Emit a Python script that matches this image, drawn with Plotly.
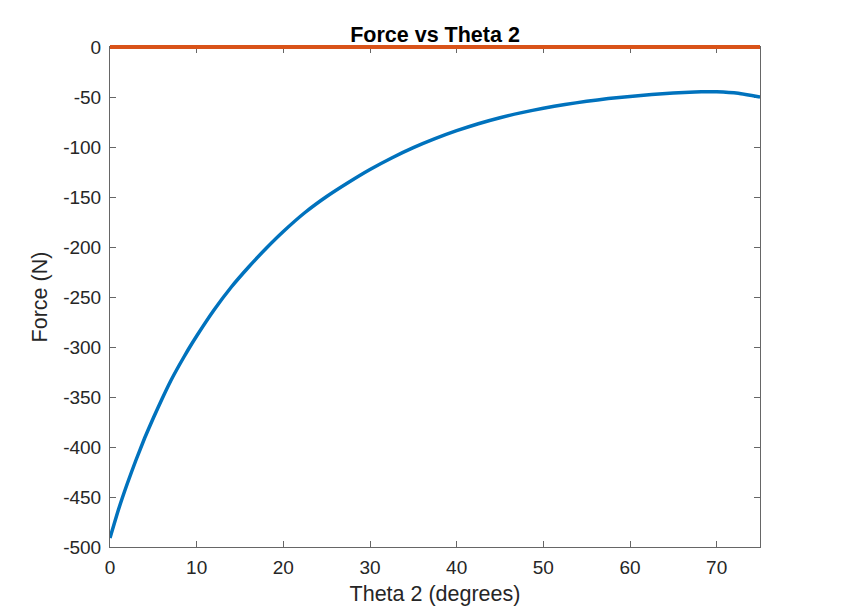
import plotly.graph_objects as go

theta = [0, 1, 2, 3, 4, 5, 6, 7, 8, 9, 10, 12, 14, 16, 18, 20,
         22.5, 25, 27.5, 30, 32.5, 35, 37.5, 40, 42.5, 45, 47.5, 50, 52.5,
         55, 57.5, 60, 62.5, 65, 67.5, 69, 70, 72.5, 75]
force = [-491, -462, -436.5, -413, -391, -371, -352, -334, -318, -303,
         -289, -263, -240, -220, -201.5, -184.5, -165.5, -149.5, -135.5, -122.5,
         -111, -100.7, -91.7, -83.7, -76.7, -70.7, -65.6, -61.2, -57.5, -54.3,
         -51.6, -49.4, -47.5, -46, -45, -44.7, -44.8, -46.3, -50]
reaction = [0 for _ in theta]

ytick_vals = [0, -50, -100, -150, -200, -250, -300, -350, -400, -450, -500]
ytick_text = ["0", "-50", "-100", "-150", "-200", "-250", "-300", "-350", "-400", "-450", "-500"]
xtick_vals = [0, 10, 20, 30, 40, 50, 60, 70]

# plot area geometry (px): main axes 500 px tall, extra headroom so the
# zero line is not clipped at the top border
main_h = 500
extra = 10
frac = main_h / (main_h + extra)
y_lo, y_hi = -500, 0
y2_hi = y_lo + (y_hi - y_lo) / frac

fig = go.Figure()
fig.add_trace(go.Scatter(x=theta, y=force, mode="lines",
                         line=dict(color="#0072BD", width=3.5, shape="spline", smoothing=0.5),
                         showlegend=False))
fig.add_trace(go.Scatter(x=theta, y=reaction, mode="lines", xaxis="x", yaxis="y2",
                         line=dict(color="#D95319", width=4),
                         showlegend=False))

font = "Liberation Sans, Arial"
axis_common = dict(showline=True, linecolor="#666666", linewidth=1, mirror="ticks",
                   ticks="inside", ticklen=6, tickcolor="#666666", showgrid=False,
                   zeroline=False, automargin=False, layer="below traces",
                   tickfont=dict(family=font, size=19, color="#262626"))

fig.update_layout(
    width=825, height=598,
    margin=dict(l=102, r=73, t=39 - extra, b=59),
    paper_bgcolor="white", plot_bgcolor="rgba(0,0,0,0)",
    title=dict(text="<b>Force vs Theta 2</b>", x=0.5, xanchor="center", xref="paper",
               y=frac, yref="paper", yanchor="bottom", pad=dict(b=5), automargin=False,
               font=dict(family=font, size=21.5, color="black")),
    xaxis=dict(range=[0, 75], tickvals=xtick_vals, ticklabelstandoff=3, anchor="y",
               title=dict(text="Theta 2 (degrees)", standoff=14,
                          font=dict(family=font, size=21.5, color="#262626")),
               **axis_common),
    yaxis=dict(range=[y_lo, y_hi], tickvals=ytick_vals, ticktext=ytick_text,
               ticklabelstandoff=4, domain=[0, frac],
               title=dict(text="Force (N)", standoff=9,
                          font=dict(family=font, size=21.5, color="#262626")),
               **axis_common),
    yaxis2=dict(range=[y_lo, y2_hi], domain=[0, 1], anchor="x", visible=False,
                showgrid=False, zeroline=False, fixedrange=True),
)

fig.write_html("out.html")
